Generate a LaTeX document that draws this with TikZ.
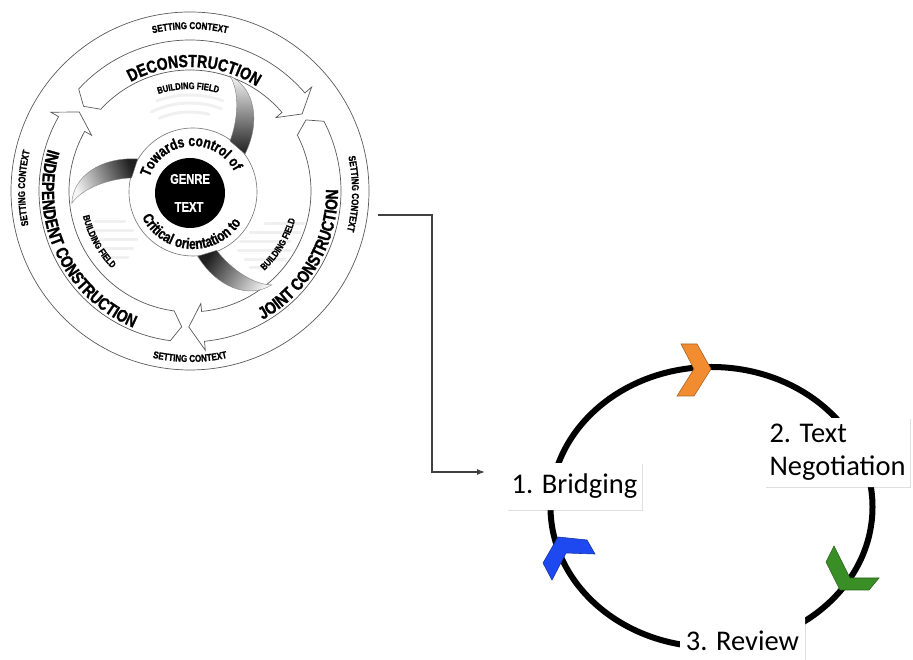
\documentclass[tikz,border=0pt]{standalone}
\usepackage{fontspec}
\newfontfamily\condfont[FakeStretch=0.8,FakeBold=1.2]{Liberation Sans}
\newfontfamily\labfont{Carlito}
\usetikzlibrary{decorations.text,arrows.meta,shadows}
\definecolor{chorange}{RGB}{242,140,48}
\definecolor{chgreen}{RGB}{58,142,38}
\definecolor{chblue}{RGB}{30,72,240}
\newcommand\bandfnt{\condfont\bfseries\fontsize{17.5}{17.5}\selectfont}
\newcommand\setfnt{\condfont\bfseries\fontsize{10}{10}\selectfont}
\newcommand\bldfnt{\condfont\bfseries\fontsize{9.5}{9.5}\selectfont}
\newcommand\innfnt{\condfont\bfseries\fontsize{15}{15}\selectfont}
% curved band arrow: #1 tail tip angle, #2 head tip angle (clockwise)
\newcommand\bandarrow[2]{%
  \pgfmathsetmacro\bandT{#1-4}%
  \pgfmathsetmacro\bandH{#2+6}%
  \draw[bandline] (\bandT:151) arc[start angle=\bandT, end angle=\bandH, radius=151]
    -- (\bandH:160) -- (#2:136) -- (\bandH:113) -- (\bandH:121)
    arc[start angle=\bandH, end angle=\bandT, radius=121] -- (#1:136) -- cycle;}
% shaded comma arrow rotated by #1 about inner centre
\newcommand\commaarrow[1]{%
  \begin{scope}[shift={(3,-1)}, rotate=#1]
  \shadedraw[draw=black!50, line width=0.4pt, top color=black!4, bottom color=black!88, shading angle=#1]
    (37,116) .. controls (62,104) and (68,70) .. (52,38) -- (37,51)
    .. controls (45,72) and (47,100) .. (37,116) -- cycle;
  \end{scope}}
\begin{document}
\begin{tikzpicture}[x=1pt,y=1pt,
  wline/.style={draw=black!65, line width=0.7pt},
  bandline/.style={wline, fill=white},
  faint/.style={draw=black!6, line width=3pt, line cap=round},
  deco/.style={decorate, decoration={text along path, text align=center, text={#1}}},
  conn/.style={draw=black!75, line width=1.3pt, -{Latex[length=8pt,width=6pt]}},
  lab/.style={fill=white, inner sep=0pt, text=black, font=\labfont\fontsize{28.5}{33}\selectfont,
    drop shadow={opacity=0.25, shadow xshift=1.2pt, shadow yshift=-1.5pt}},
  chev/.style={line width=0.6pt, line join=miter},
]
\useasboundingbox (0,0) rectangle (913,660);

% ---------------- left wheel ----------------
\begin{scope}[shift={(190,469)}]
  \draw[wline] (0,0) circle[radius=179];
  \bandarrow{141.5}{34.5}
  \bandarrow{31.5}{-90.5}
  \bandarrow{266.5}{144.5}
  % stage names
  \path[deco={|\bandfnt|DECONSTRUCTION}] (135:124) arc[start angle=135, end angle=41, radius=124];
  \path[deco={|\bandfnt|JOINT CONSTRUCTION}] (-80:148) arc[start angle=-80, end angle=20, radius=148];
  \path[deco={|\bandfnt|INDEPENDENT CONSTRUCTION}] (155:148) arc[start angle=155, end angle=256, radius=148];
  % setting context
  \path[deco={|\setfnt|SETTING CONTEXT}] (120:162) arc[start angle=120, end angle=60, radius=162];
  \path[deco={|\setfnt|SETTING CONTEXT}] (29:162) arc[start angle=29, end angle=-31, radius=162];
  \path[deco={|\setfnt|SETTING CONTEXT}] (209:165) arc[start angle=209, end angle=149, radius=165];
  \path[deco={|\setfnt|SETTING CONTEXT}] (240:171) arc[start angle=240, end angle=300, radius=171];
  % faint blurred notes
  \draw[faint] (110:96) arc[start angle=110, end angle=70, radius=96];
  \draw[faint] (116:88) arc[start angle=116, end angle=69, radius=88];
  \draw[faint] (113:79) arc[start angle=113, end angle=76, radius=79];
  \foreach \yy/\xa/\xb in {-31/-95/-65, -40/-98/-57, -49/-90/-53, -58/-87/-57, -67/-82/-62}
    \draw[faint] (\xa,\yy) -- (\xb,\yy);
  \foreach \yy/\xa/\xb in {-33/75/115, -42/60/110, -51/50/100, -60/48/100, -69/55/95, -77/60/80}
    \draw[faint] (\xa,\yy) -- (\xb,\yy);
  % building field labels
  \path[deco={|\bldfnt|BUILDING FIELD}] (121:102) arc[start angle=121, end angle=61, radius=102];
  \path[deco={|\bldfnt|BUILDING FIELD}] (179:110) arc[start angle=179, end angle=239, radius=110];
  \path[deco={|\bldfnt|BUILDING FIELD}] (-61:109) arc[start angle=-61, end angle=-1, radius=109];
  % inner circle
  \draw[draw=black!55, line width=0.6pt] (3,-1) circle[radius=64];
  \fill[black] (0,-2) circle[radius=35];
  \node[font=\condfont\bfseries\fontsize{14}{14}\selectfont, text=white] (genre) at (0,12) {GENRE};
  \node[font=\condfont\bfseries\fontsize{14}{14}\selectfont, text=white] (gtext) at (-1,-16) {TEXT};
  \path[deco={|\innfnt|Towards control of}] ([shift={(3,-1)}]174:46) arc[start angle=174, end angle=14, radius=46];
  \path[deco={|\innfnt|Critical orientation to}] ([shift={(3,-1)}]187:57) arc[start angle=187, end angle=347, radius=57];
  % shaded arrows towards the centre
  \commaarrow{0}
  \commaarrow{-122}
  \commaarrow{113}
\end{scope}

% ---------------- connector ----------------
\coordinate (wout) at (378,445);
\coordinate (bin) at (485,188);
\draw[conn] (wout) -- ++(54,0) |- (bin);

% ---------------- right cycle ----------------
\draw[line width=6pt, black] (711.5,153) ellipse[x radius=161, y radius=140];
\filldraw[chev, fill=chorange, draw=chorange!70!black] (681,316) -- (697,316) -- (711,291) -- (694,264) -- (677,264) -- (694,291) -- cycle;
\filldraw[chev, fill=chgreen, draw=chgreen!70!black] (834,114) -- (850,82) -- (879,82) -- (869,70) -- (840,70) -- (826,98) -- cycle;
\filldraw[chev, fill=chblue, draw=chblue!70!black] (558,123) -- (587,120) -- (595,106) -- (566,107) -- (552,80) -- (543,97) -- cycle;

\node[lab, minimum width=135pt, minimum height=47pt] (bridge) at (574.5,173.5) {1. Bridging};
\node[lab, minimum width=145pt, minimum height=69pt, align=left] (nego) at (837.5,207.5) {2. Text\\Negotiation};
\node[lab, minimum width=125pt, minimum height=47pt] (review) at (742.5,19) {3. Review};
\end{tikzpicture}
\end{document}
